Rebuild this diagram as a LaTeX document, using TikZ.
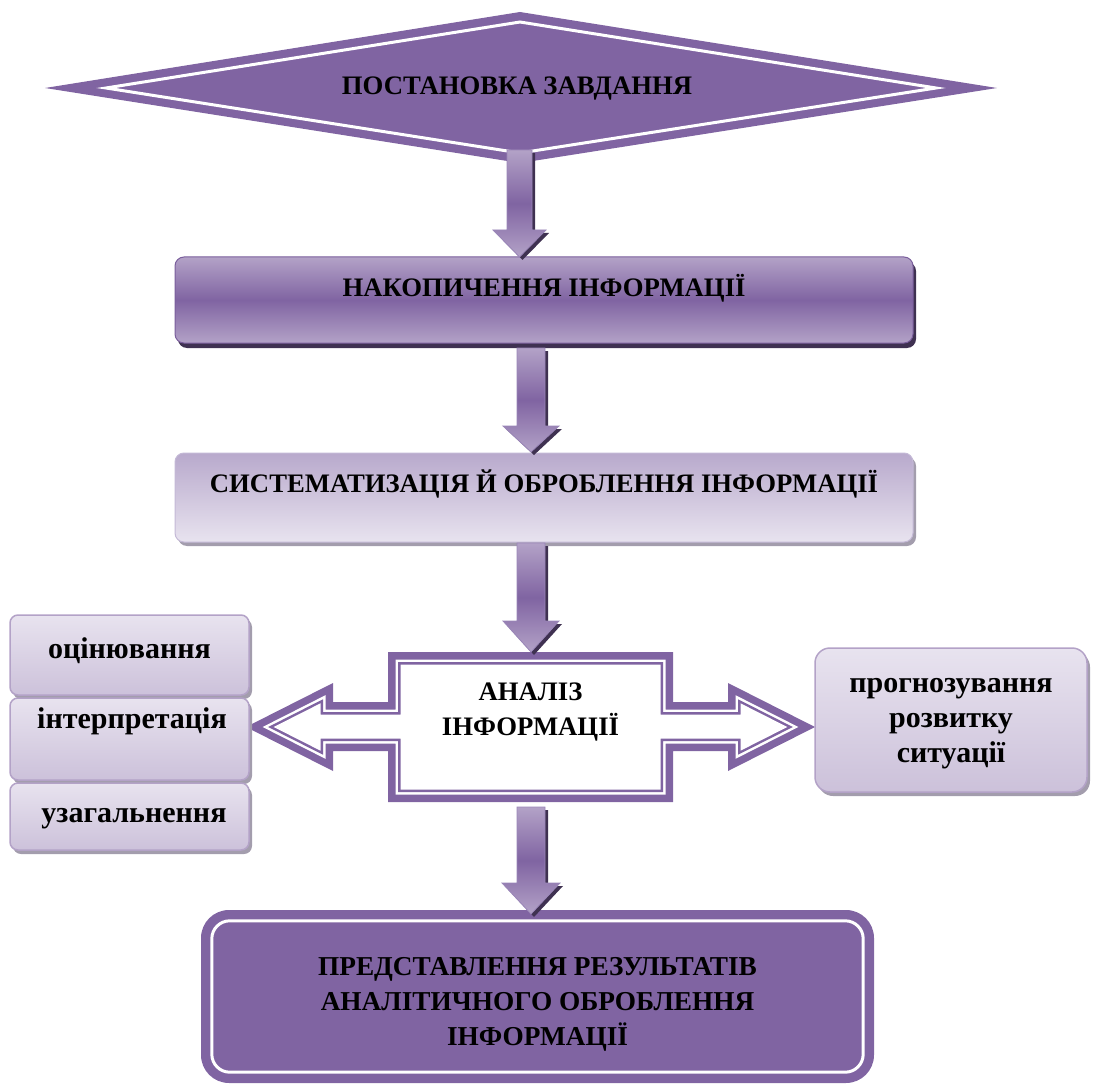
\documentclass[tikz,border=0pt]{standalone}
\usepackage{fontspec}
\setmainfont{Liberation Serif}
\usetikzlibrary{calc,shadows}
\definecolor{purp}{HTML}{8064A2}
\definecolor{lpurp}{HTML}{B3A2C7}
\definecolor{llpurp}{HTML}{CCC1DA}
\definecolor{lavend}{HTML}{E8E3EF}
\definecolor{dshadow}{HTML}{3F3151}
\definecolor{gshadow}{HTML}{A39DAD}
\definecolor{edgep}{HTML}{7A5E9C}
\definecolor{arredge}{HTML}{9A86B8}
\definecolor{boxtwotop}{HTML}{B8A9CC}
\definecolor{boxtwoedge}{HTML}{C4B9D6}

\tikzset{
  txt/.style={font=\fontsize{26.7}{35}\selectfont\bfseries, inner sep=0pt},
  bigtxt/.style={font=\fontsize{27.3}{35}\selectfont\bfseries, inner sep=0pt},
  smalltxt/.style={font=\fontsize{30}{35}\selectfont\bfseries, inner sep=0pt},
  darkbox/.style={rectangle, rounded corners=9pt, inner sep=0pt,
    top color=lpurp, bottom color=lpurp, middle color=purp,
    draw=edgep, line width=1pt,
    drop shadow={fill=dshadow, opacity=1, shadow xshift=3pt, shadow yshift=-5pt}},
  lightbox/.style={rectangle, rounded corners=9pt, inner sep=0pt,
    top color=boxtwotop, bottom color=lavend,
    draw=boxtwoedge, line width=1pt,
    drop shadow={fill=gshadow, opacity=1, shadow xshift=3pt, shadow yshift=-4pt}},
  sidebox/.style={rectangle, rounded corners=#1, inner sep=0pt,
    top color=lavend, bottom color=llpurp,
    draw=lpurp, line width=1.5pt,
    drop shadow={fill=gshadow, opacity=1, shadow xshift=3pt, shadow yshift=-4pt}},
  resultbox/.style={rectangle, rounded corners=28pt, inner sep=0pt, fill=purp},
  blockarr/.style={top color=lpurp, bottom color=lpurp, middle color=purp,
    draw=arredge, line width=0.8pt,
    drop shadow={fill=dshadow, opacity=1, shadow xshift=3pt, shadow yshift=-3pt}},
}

% block arrow: #1 start coordinate, #2 tip coordinate, #3 shaft half width, #4 head half width, #5 head length
\newcommand\blockarrow[5]{%
  \path[blockarr] let \p1=(#1), \p2=(#2) in
    ({\x2-#3pt},\y1) -- ({\x2+#3pt},\y1) -- ({\x2+#3pt},{\y2+#5pt}) --
    ({\x2+#4pt},{\y2+#5pt}) -- (\x2,\y2) -- ({\x2-#4pt},{\y2+#5pt}) --
    ({\x2-#3pt},{\y2+#5pt}) -- cycle;}

% left-right arrow box, inset by #1
\newcommand\anashape[2]{%
  \path[#2] ({388+#1},{652+#1}) -- ({673-#1},{652+#1}) -- ({673-#1},{702+#1}) --
    ({728+#1},{702+#1}) -- ({728+#1},{683+1.626*#1}) -- ({815-2.215*#1},727) --
    ({728+#1},{771-1.626*#1}) -- ({728+#1},{751-#1}) -- ({673-#1},{751-#1}) --
    ({673-#1},{802-#1}) -- ({388+#1},{802-#1}) -- ({388+#1},{751-#1}) --
    ({333-#1},{751-#1}) -- ({333-#1},{771-1.626*#1}) -- ({246+2.215*#1},727) --
    ({333-#1},{683+1.626*#1}) -- ({333-#1},{702+#1}) -- ({388+#1},{702+#1}) -- cycle;}

\begin{document}
\begin{tikzpicture}[x=1pt,y=-1pt]
\useasboundingbox (0,0) rectangle (1093,1086);

% diamond
\fill[purp] (45,88) -- (520,12) -- (997,88) -- (520,163) -- cycle;
\draw[white, line width=3pt, line join=miter] (106,88) -- (520,22) -- (936,88) -- (520,153) -- cycle;
\node[txt, anchor=base] (t0) at (517,95) {ПОСТАНОВКА ЗАВДАННЯ};

% box 1
\node[darkbox, minimum width=738pt, minimum height=86pt] (b1) at (544,300) {};
\node[txt, anchor=base] (t1) at (544,297) {НАКОПИЧЕННЯ ІНФОРМАЦІЇ};

% box 2
\node[lightbox, minimum width=738pt, minimum height=89pt] (b2) at (544,497.5) {};
\node[txt, anchor=base] (t2) at (544,492) {СИСТЕМАТИЗАЦІЯ Й ОБРОБЛЕННЯ ІНФОРМАЦІЇ};

% analysis shape
\anashape{0}{fill=purp}
\anashape{7.5}{fill=white}
\anashape{10}{fill=purp}
\anashape{12.5}{fill=white}
\node[txt, anchor=base] (ana) at (530.5,735)
  {\begin{tabular}[b]{@{}c@{}}АНАЛІЗ\\ІНФОРМАЦІЇ\end{tabular}};

% left boxes
\node[sidebox=8pt, minimum width=239pt, minimum height=80pt] (la) at (129.5,655) {};
\node[smalltxt, anchor=base] (lta) at (129.5,658) {оцінювання};
\node[sidebox=8pt, minimum width=239pt, minimum height=82pt] (lb) at (129.5,739) {};
\node[smalltxt, anchor=base] (ltb) at (132,728) {інтерпретація};
\node[sidebox=8pt, minimum width=239pt, minimum height=67pt] (lc) at (129.5,816.5) {};
\node[smalltxt, anchor=base] (ltc) at (134,822) {узагальнення};

% right box
\node[sidebox=15pt, minimum width=272pt, minimum height=144pt] (rb) at (951,720) {};
\node[smalltxt, anchor=base] (rt) at (951,762)
  {\begin{tabular}[b]{@{}c@{}}прогнозування\\розвитку\\ситуації\end{tabular}};

% result box
\node[resultbox, minimum width=673pt, minimum height=173pt] (res) at (537.5,996.5) {};
\draw[white, line width=3pt, rounded corners=18pt]
  ([xshift=11pt,yshift=-11pt]res.north west) rectangle ([xshift=-11pt,yshift=11pt]res.south east);
\node[bigtxt, anchor=base] (rest) at (537.5,1045)
  {\begin{tabular}[b]{@{}c@{}}ПРЕДСТАВЛЕННЯ РЕЗУЛЬТАТІВ\\АНАЛІТИЧНОГО ОБРОБЛЕННЯ\\ІНФОРМАЦІЇ\end{tabular}};

% connector coordinates
\coordinate (a1s) at (519.5,150);
\coordinate (a1e) at (519.5,257);
\coordinate (a2s) at (531,348);
\coordinate (a2e) at (531,452);
\coordinate (a3s) at (531,543);
\coordinate (a3e) at (531,652);
\coordinate (a4s) at (531,807);
\coordinate (a4e) at (531,914);

\blockarrow{a1s}{a1e}{12.5}{26.5}{27}
\blockarrow{a2s}{a2e}{14}{28}{26}
\blockarrow{a3s}{a3e}{14}{28}{31}
\blockarrow{a4s}{a4e}{14}{29}{31}
\end{tikzpicture}
\end{document}
